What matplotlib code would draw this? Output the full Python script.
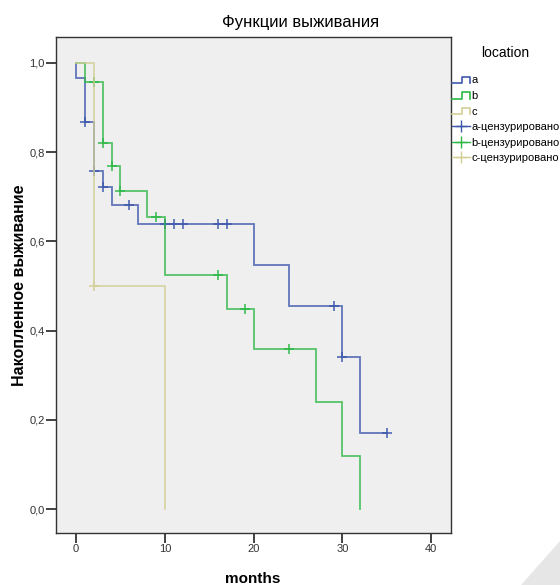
import numpy as np
import matplotlib
matplotlib.use("Agg")
import matplotlib.pyplot as plt
from matplotlib.lines import Line2D
from matplotlib.legend_handler import HandlerBase
from matplotlib.patches import Polygon
from matplotlib.ticker import FuncFormatter

plt.rcParams['font.family'] = ['Liberation Sans', 'DejaVu Sans']

# ---- data ----
groups = ['a', 'b', 'c']
colors = ['#3E58AC', '#2EB848', '#D3CE97']

a_event_t = [0, 1, 2, 3, 4, 7, 20, 24, 30, 32]
a_event_s = [0.967, 0.867, 0.758, 0.722, 0.681, 0.639, 0.547, 0.456, 0.342, 0.171]
a_end_t = 35
a_cens_t = [1, 2, 3, 6, 10, 11, 12, 16, 17, 29, 30, 35]

b_event_t = [1, 3, 4, 5, 8, 10, 17, 20, 27, 30, 32]
b_event_s = [0.956, 0.820, 0.769, 0.713, 0.655, 0.524, 0.449, 0.358, 0.240, 0.119, 0.0]
b_end_t = 32
b_cens_t = [2, 3, 4, 5, 9, 16, 19, 24]

c_event_t = [2, 10]
c_event_s = [0.5, 0.0]
c_end_t = 10
c_cens_t = [2]

title = 'Функции выживания'
xlabel = 'months'
ylabel = 'Накопленное выживание'
legend_title = 'location'
cens_suffix = '-цензурировано'
x_ticks = [0, 10, 20, 30, 40]
y_ticks = [0.0, 0.2, 0.4, 0.6, 0.8, 1.0]

series = [
    (a_event_t, a_event_s, a_end_t, a_cens_t),
    (b_event_t, b_event_s, b_end_t, b_cens_t),
    (c_event_t, c_event_s, c_end_t, c_cens_t),
]


def surv_at(t, ev_t, ev_s):
    s = 1.0
    for et, es in zip(ev_t, ev_s):
        if et <= t:
            s = es
    return s


class StepHandler(HandlerBase):
    def create_artists(self, legend, orig_handle, xdescent, ydescent,
                       width, height, fontsize, trans):
        xs = np.array([0.0, 0.55, 0.55, 1.0, 1.0]) * width - xdescent
        ys = np.array([0.05, 0.05, 0.85, 0.85, 0.05]) * height - ydescent
        ln = Line2D(xs, ys, color=orig_handle.get_color(), lw=1.2,
                    transform=trans)
        return [ln]


fig = plt.figure(figsize=(5.6, 5.85), dpi=100)
ax = fig.add_axes([0.1, 0.0884, 0.705, 0.8478])
ax.set_facecolor('#efefef')

step_handles = []
cens_handles = []
for (ev_t, ev_s, end_t, cens_t), col, g in zip(series, colors, groups):
    xs = [0] + list(ev_t) + [end_t]
    ys = [1.0] + list(ev_s) + [ev_s[-1]]
    ax.step(xs, ys, where='post', color=col, lw=1.3, alpha=0.8,
            solid_joinstyle='miter')
    cy = [surv_at(t, ev_t, ev_s) for t in cens_t]
    ax.plot(cens_t, cy, ls='none', marker='+', ms=6.5, mew=1.2, color=col,
            alpha=0.9)
    step_handles.append(Line2D([], [], color=col))
    cens_handles.append(Line2D([], [], color=col, marker='+', ms=9, mew=1.0,
                               lw=1.0))

ax.set_xlim(-2.25, 42.2)
ax.set_ylim(-0.054, 1.057)
ax.set_xticks(x_ticks)
ax.set_yticks(y_ticks)
ax.yaxis.set_major_formatter(FuncFormatter(lambda v, p: f"{v:.1f}".replace('.', ',')))
ax.tick_params(axis='both', direction='out', length=7, width=1.2,
               labelsize=8, colors='#222222', labelcolor='#333333', pad=1)
ax.tick_params(top=False, right=False)
for sp in ax.spines.values():
    sp.set_color('#333333')
    sp.set_linewidth(1.0)

fig.text(0.5375, 0.962, title, ha='center', va='center', fontsize=12)
fig.text(0.452, 0.011, xlabel, ha='center', va='center', fontsize=11,
         fontweight='bold')
fig.text(0.034, 0.513, ylabel, ha='center', va='center', fontsize=11.5,
         fontweight='bold', rotation=90)
fig.text(0.902, 0.909, legend_title, ha='center', va='center', fontsize=10)

handles = step_handles + cens_handles
labels = groups + [g + cens_suffix for g in groups]
hmap = {h: StepHandler() for h in step_handles}
leg = fig.legend(handles, labels, loc='upper left',
                 bbox_to_anchor=(0.805, 0.873), frameon=False,
                 fontsize=8, handler_map=hmap, handlelength=1.6,
                 handletextpad=0.15, labelspacing=0.5, borderaxespad=0,
                 borderpad=0.1)

# page-curl corner as in the reference
fig.patches.append(Polygon([[0.93, 0.0], [1.0, 0.0], [1.0, 0.075]],
                           closed=True, transform=fig.transFigure,
                           facecolor='#e6e6e6', edgecolor='none'))

fig.savefig('out.png', dpi=100)
